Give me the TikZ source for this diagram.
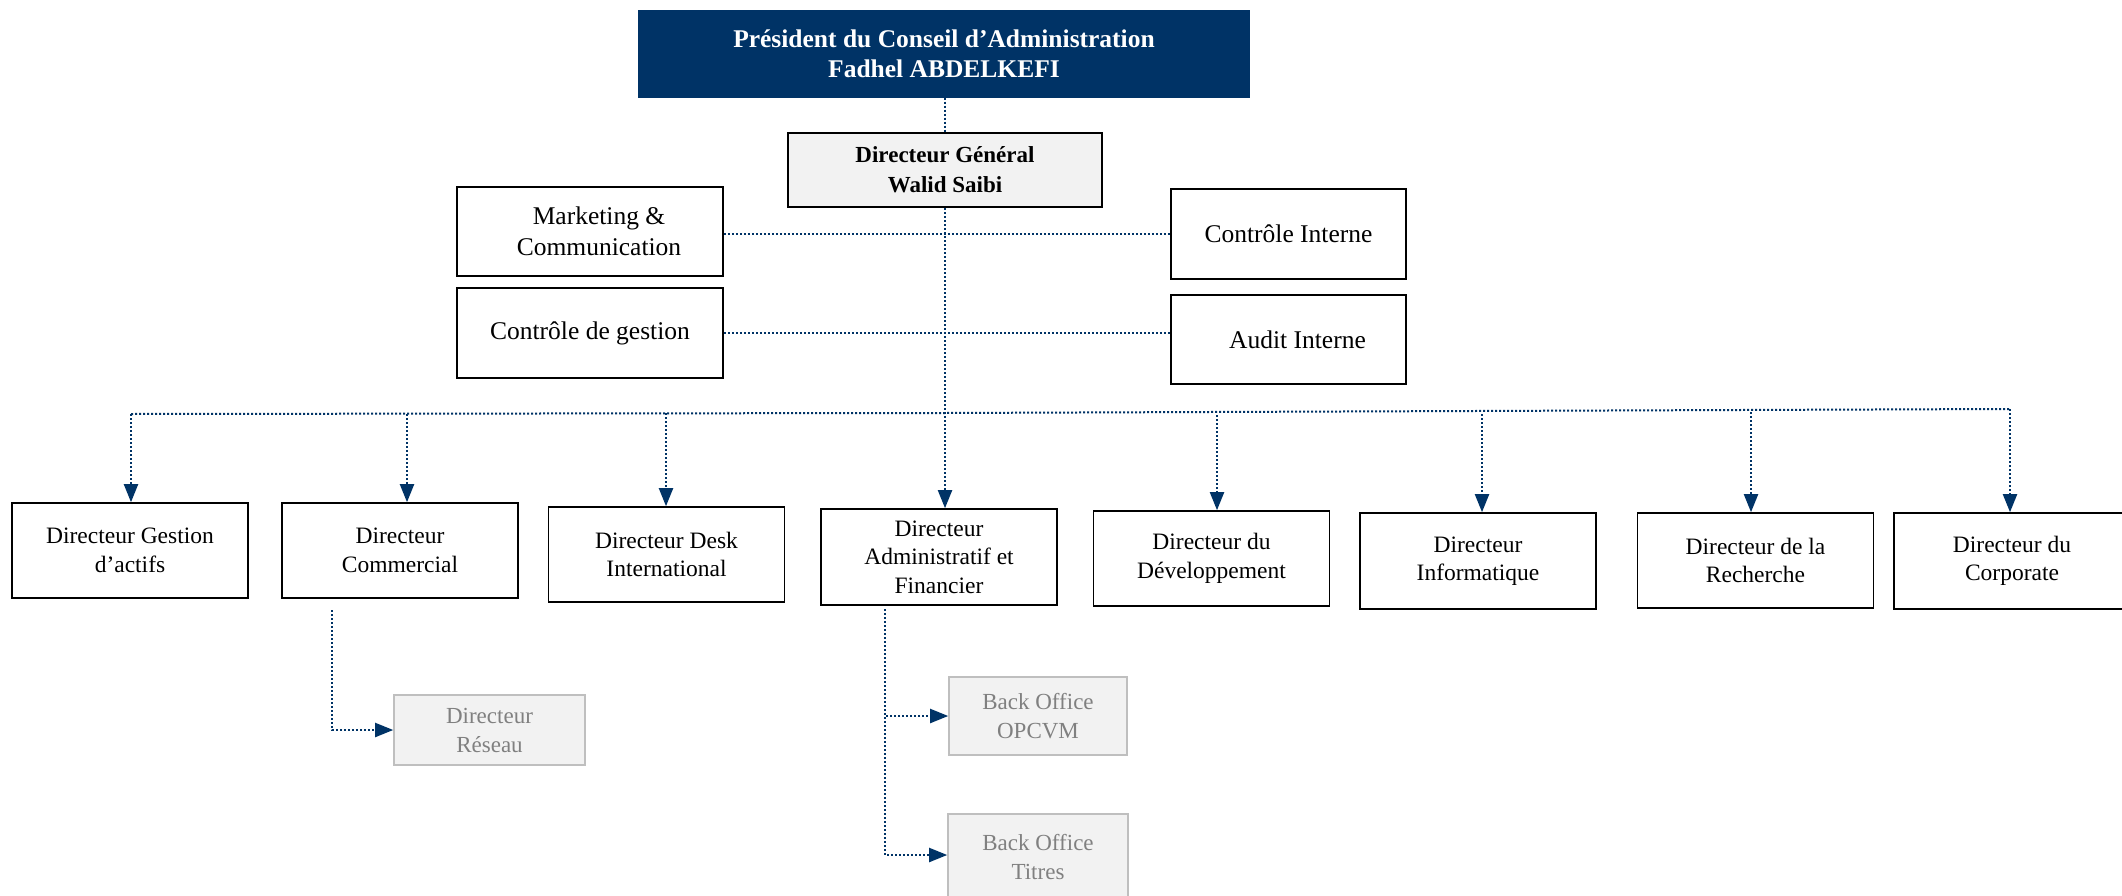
\documentclass[tikz,border=0pt]{standalone}
\usepackage{fontspec}
\setmainfont{Liberation Serif}
\usetikzlibrary{arrows.meta}
\definecolor{navy}{RGB}{0,51,102}
\definecolor{boxgray}{RGB}{242,242,242}
\definecolor{edgegray}{RGB}{191,191,191}
\definecolor{txtgray}{RGB}{128,128,128}
\begin{document}
\begin{tikzpicture}[x=1pt,y=-1pt,
  conn/.style={navy, line width=2pt, dash pattern=on 2pt off 2pt},
  tip/.style={-{Triangle[length=18pt,width=14pt,fill=navy]}},
  box/.style={draw=black, line width=1.6pt, inner sep=0pt, align=center},
  topbox/.style={fill=navy, draw=navy, inner sep=0pt, align=center, text=white,
    font=\fontsize{25.5pt}{30pt}\selectfont\bfseries, minimum width=611pt, minimum height=87pt},
  dgbox/.style={box, fill=boxgray, line width=2.4pt, font=\fontsize{23pt}{30pt}\selectfont\bfseries,
    minimum width=314pt, minimum height=74pt},
  midbox/.style={box, font=\fontsize{25.5pt}{31pt}\selectfont, minimum height=89pt},
  lowbox/.style={box, font=\fontsize{23.5pt}{28.5pt}\selectfont, minimum width=236pt, minimum height=95pt},
  greybox/.style={draw=edgegray, fill=boxgray, line width=1.6pt, inner sep=0pt, align=center,
    text=txtgray, font=\fontsize{23pt}{29pt}\selectfont},
]
\useasboundingbox (0,0) rectangle (2122,896);

% top levels
\node[topbox] (pca) at (944,54) {Président du Conseil d’Administration\\Fadhel ABDELKEFI};
\node[dgbox] (dg) at (945,170) {Directeur Général\\Walid Saibi};

% staff functions
\node[midbox, minimum width=266pt] (mkt) at (590,231.5) {\hspace*{18pt}Marketing \&\\\hspace*{18pt}Communication};
\node[midbox, minimum width=235pt, minimum height=90pt] (ci) at (1288.5,234) {Contrôle Interne};
\node[midbox, minimum width=266pt, minimum height=90pt] (cg) at (590,333) {Contrôle de gestion};
\node[midbox, minimum width=235pt] (ai) at (1288.5,339.5) {\hspace*{18pt}Audit Interne};

% directors
\node[lowbox] (b1) at (130,550.5) {Directeur Gestion\\d’actifs};
\node[lowbox] (b2) at (400,550.5) {Directeur\\Commercial};
\node[lowbox] (b3) at (666.5,554.5) {Directeur Desk\\International};
\node[lowbox, minimum height=96pt] (b4) at (939,557) {Directeur\\Administratif et\\Financier};
\node[lowbox] (b5) at (1211.5,558.5) {Directeur du\\Développement};
\node[lowbox, minimum height=96pt] (b6) at (1478,561) {Directeur\\Informatique};
\node[lowbox] (b7) at (1755.5,560.5) {Directeur de la\\Recherche};
\node[lowbox, minimum height=96pt] (b8) at (2012,561) {Directeur du\\Corporate};

% sub-units
\node[greybox, minimum width=191pt, minimum height=70pt] (res) at (489.5,730) {Directeur\\Réseau};
\node[greybox, minimum width=178pt, minimum height=78pt] (opc) at (1038,716) {Back Office\\OPCVM};
\node[greybox, minimum width=180pt, minimum height=86pt] (tit) at (1038,857) {Back Office\\Titres};

% trunk
\draw[conn] (pca.south -| dg.north) -- (dg.north);
\draw[conn, tip] (dg.south) -- (dg.south |- b4.north);

% staff links
\draw[conn] (ci.west -| mkt.east) -- (ci.west);
\draw[conn] (cg.east) -- (cg.east -| ai.west);

% bus
\coordinate (busL) at (131,414);
\coordinate (busR) at (2010,409);
\coordinate (t2) at (407,414);
\coordinate (t3) at (666,413);
\coordinate (t5) at (1217,415);
\coordinate (t6) at (1482,414);
\coordinate (t7) at (1751,412);
\draw[conn] (busL) -- (dg.south |- 0,413) -- (2005,409) -- (busR);
\draw[conn, tip] (busL) -- (busL |- b1.north);
\draw[conn, tip] (t2) -- (t2 |- b2.north);
\draw[conn, tip] (t3) -- (t3 |- b3.north);
\draw[conn, tip] (t5) -- (t5 |- b5.north);
\draw[conn, tip] (t6) -- (t6 |- b6.north);
\draw[conn, tip] (t7) -- (t7 |- b7.north);
\draw[conn, tip] (busR) -- (busR |- b8.north);

% sub links
\coordinate (sc) at (332,610);
\draw[conn, tip] (sc) |- (res.west);
\coordinate (sd) at (885,609);
\draw[conn, tip] (sd) |- (opc.west);
\draw[conn, tip] (sd) |- (tit.west |- 0,855);
\end{tikzpicture}
\end{document}
